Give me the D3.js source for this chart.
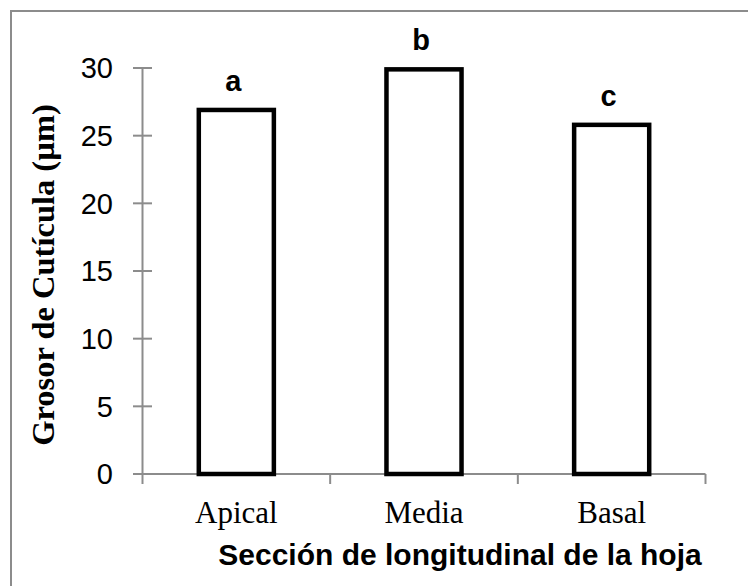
<!DOCTYPE html>
<html>
<head>
<meta charset="utf-8">
<script src="https://cdn.jsdelivr.net/npm/d3@7"></script>
<style>
  html, body { margin: 0; padding: 0; background: #fff; }
  svg { display: block; }
</style>
</head>
<body>
<script>
const categories = ["Apical", "Media", "Basal"];
const values = [26.9, 29.9, 25.8];
const letters = ["a", "b", "c"];
const yTicks = [0, 5, 10, 15, 20, 25, 30];
const yTitle = "Grosor de Cutícula (µm)";
const xTitle = "Sección de longitudinal de la hoja";

const W = 748, H = 586;
const svg = d3.select("body").append("svg").attr("width", W).attr("height", H);

// outer border (right/bottom edges fall outside picture)
svg.append("rect").attr("x", 11).attr("y", 11).attr("width", W + 20).attr("height", H + 20)
  .attr("fill", "none").attr("stroke", "#8c8c8c").attr("stroke-width", 2);

const x0 = 142.5, x1 = 705.5, yBot = 474, yTop = 68;
const x = d3.scaleBand().domain(categories).range([x0, x1]).paddingInner(0.6).paddingOuter(0.3);
const xb = d3.scaleBand().domain(categories).range([x0, x1]);
const y = d3.scaleLinear().domain([0, 30]).range([yBot, yTop]);

const gray = "#8c8c8c";

// y axis
svg.append("line").attr("x1", x0).attr("x2", x0).attr("y1", y(30)).attr("y2", yBot)
  .attr("stroke", gray).attr("stroke-width", 2);
svg.selectAll(".ytick").data(yTicks).enter().append("line")
  .attr("x1", 133).attr("x2", 152).attr("y1", d => y(d)).attr("y2", d => y(d))
  .attr("stroke", gray).attr("stroke-width", 2);
svg.selectAll(".ylab").data(yTicks).enter().append("text")
  .attr("x", 113).attr("y", d => y(d)).attr("dy", "0.36em")
  .attr("text-anchor", "end").attr("font-family", "Liberation Sans, Arial, sans-serif")
  .attr("font-size", 29).attr("fill", "#000").text(d => d);

// x axis
svg.append("line").attr("x1", 133).attr("x2", x1).attr("y1", yBot).attr("y2", yBot)
  .attr("stroke", gray).attr("stroke-width", 2);
const bounds = categories.map(c => xb(c)).concat([x1]);
svg.selectAll(".xtick").data(bounds).enter().append("line")
  .attr("x1", d => d).attr("x2", d => d).attr("y1", yBot).attr("y2", yBot + 10)
  .attr("stroke", gray).attr("stroke-width", 2);

// bars
svg.selectAll(".bar").data(values).enter().append("rect")
  .attr("x", (d, i) => x(categories[i]))
  .attr("y", d => y(d))
  .attr("width", x.bandwidth())
  .attr("height", d => yBot - y(d))
  .attr("fill", "#fff").attr("stroke", "#000").attr("stroke-width", 4.5);

// letters
svg.selectAll(".let").data(values).enter().append("text")
  .attr("x", (d, i) => x(categories[i]) + x.bandwidth() / 2 - 3)
  .attr("y", d => y(d) - 19)
  .attr("text-anchor", "middle").attr("font-family", "Liberation Sans, Arial, sans-serif")
  .attr("font-weight", "bold").attr("font-size", 29).attr("fill", "#000")
  .text((d, i) => letters[i]);

// category labels
svg.selectAll(".cat").data(categories).enter().append("text")
  .attr("x", d => x(d) + x.bandwidth() / 2).attr("y", 523)
  .attr("text-anchor", "middle").attr("font-family", "Liberation Serif, Times New Roman, serif")
  .attr("font-size", 31).attr("fill", "#000").text(d => d);

// x title
svg.append("text").attr("x", 460).attr("y", 565).attr("text-anchor", "middle")
  .attr("font-family", "Liberation Sans, Arial, sans-serif").attr("font-weight", "bold")
  .attr("font-size", 30).attr("fill", "#000").text(xTitle);

// y title
svg.append("text").attr("transform", "translate(54,275) rotate(-90)")
  .attr("text-anchor", "middle").attr("font-family", "Liberation Serif, Times New Roman, serif")
  .attr("font-weight", "bold").attr("font-size", 32.5).attr("fill", "#000").text(yTitle);
</script>
</body>
</html>
